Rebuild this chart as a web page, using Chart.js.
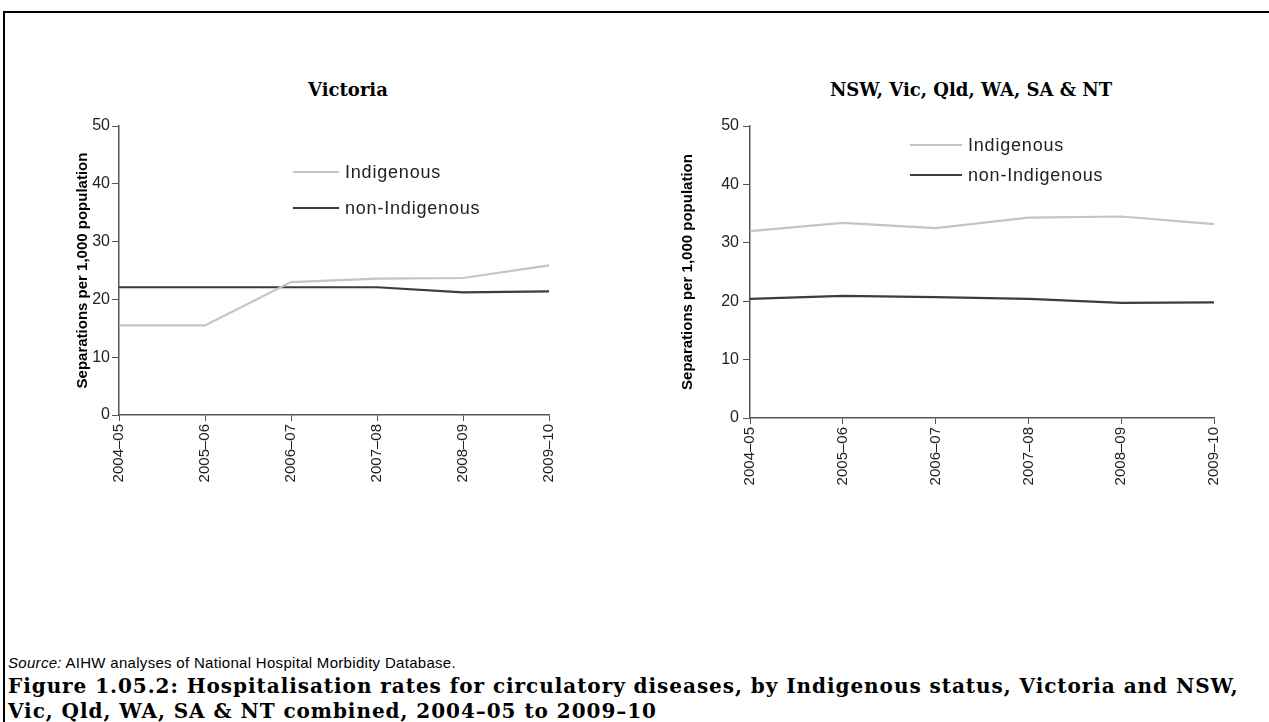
<!DOCTYPE html>
<html>
<head>
<meta charset="utf-8">
<script src="https://cdn.jsdelivr.net/npm/chart.js@4.4.0/dist/chart.umd.min.js"></script>
<style>
  body { margin: 0; background: #fff; width: 1269px; height: 722px; overflow: hidden; position: relative; font-family: "Liberation Sans", Arial, sans-serif; }
  .frame { position: absolute; left: 3px; top: 11px; width: 1300px; height: 800px; border-top: 2px solid #000; border-left: 2px solid #000; }
  .ptitle { position: absolute; top: 79px; width: 500px; text-align: center; font: bold 18px "DejaVu Serif", serif; color: #000; }
  .box { position: absolute; }
  .source { position: absolute; left: 8px; top: 654px; font-size: 15px; letter-spacing: 0.3px; color: #000; }
  .caption { position: absolute; left: 8px; top: 674px; font: bold 20px/25px "DejaVu Serif", serif; letter-spacing: 0.95px; color: #000; white-space: nowrap; }
</style>
</head>
<body>
<div class="frame"></div>
<div class="ptitle" style="left:98px">Victoria</div>
<div class="ptitle" style="left:721px">NSW, Vic, Qld, WA, SA &amp; NT</div>

<div class="box" style="left:70px;top:100px"><canvas id="vic" width="500" height="385"></canvas></div>
<div class="box" style="left:670px;top:100px"><canvas id="comb" width="565" height="388"></canvas></div>

<div class="source"><i>Source:</i> AIHW analyses of National Hospital Morbidity Database.</div>
<div class="caption">Figure 1.05.2: Hospitalisation rates for circulatory diseases, by Indigenous status, Victoria and NSW,<br>Vic, Qld, WA, SA &amp; NT combined, 2004–05 to 2009–10</div>

<script>
// Data
const years = ['2004–05', '2005–06', '2006–07', '2007–08', '2008–09', '2009–10'];
const seriesNames = ['Indigenous', 'non-Indigenous'];
const vicIndigenous = [15.5, 15.5, 23.0, 23.6, 23.7, 25.9];
const vicNonIndigenous = [22.1, 22.1, 22.1, 22.1, 21.2, 21.4];
const combIndigenous = [32.0, 33.4, 32.5, 34.3, 34.5, 33.2];
const combNonIndigenous = [20.4, 20.9, 20.7, 20.4, 19.7, 19.8];
const yTicks = [0, 10, 20, 30, 40, 50];

// Legend drawn inside the plot area
const insideLegend = {
    id: 'insideLegend',
    afterDraw(chart, args, opts) {
        const { ctx, chartArea } = chart;
        ctx.save();
        chart.data.datasets.forEach((ds, i) => {
            const x = chartArea.left + opts.x;
            const y = chartArea.top + opts.y + i * opts.gap;
            ctx.strokeStyle = ds.borderColor;
            ctx.lineWidth = 2;
            ctx.beginPath();
            ctx.moveTo(x, y);
            ctx.lineTo(x + opts.len, y);
            ctx.stroke();
            ctx.fillStyle = '#222';
            ctx.font = '18px "Liberation Sans", Arial, sans-serif';
            ctx.letterSpacing = '0.8px';
            ctx.textBaseline = 'middle';
            ctx.fillText(ds.label, x + opts.len + 6, y + 1);
        });
        ctx.restore();
    }
};

function makeChart(id, indig, nonIndig, legend, yWidth, tickPad) {
    return new Chart(document.getElementById(id), {
        type: 'line',
        data: {
            labels: years,
            datasets: [
                { label: seriesNames[0], data: indig, borderColor: '#c4c4c4', borderWidth: 2.2 },
                { label: seriesNames[1], data: nonIndig, borderColor: '#3c3c3c', borderWidth: 2.2 }
            ]
        },
        options: {
            responsive: false,
            animation: false,
            elements: { point: { radius: 0 }, line: { tension: 0 } },
            layout: { padding: { top: 26, right: 17, left: 0, bottom: 0 } },
            plugins: {
                legend: { display: false },
                tooltip: { enabled: false },
                insideLegend: legend
            },
            scales: {
                x: {
                    offset: false,
                    grid: { drawOnChartArea: false, drawTicks: true, tickLength: 6, color: '#555' },
                    border: { color: '#555', width: 1.5 },
                    ticks: { minRotation: 90, maxRotation: 90, padding: 3, color: '#222', font: { size: 15, family: '"Liberation Sans", Arial' } },
                    afterFit: s => { s.height = 70; }
                },
                y: {
                    min: 0, max: 50,
                    afterBuildTicks: s => { s.ticks = yTicks.map(v => ({ value: v })); },
                    grid: { drawOnChartArea: false, drawTicks: true, tickLength: 7, color: '#555' },
                    border: { color: '#555', width: 1.5 },
                    ticks: { padding: tickPad, color: '#222', font: { size: 16, family: '"Liberation Sans", Arial' } },
                    title: {
                        display: true,
                        text: 'Separations per 1,000 population',
                        color: '#000',
                        padding: { top: yWidth === 49 ? 4 : 9, bottom: 0 },
                        font: { size: 15, weight: 'bold', family: '"Liberation Sans", Arial' }
                    },
                    afterFit: s => { s.width = yWidth; }
                }
            }
        },
        plugins: [insideLegend]
    });
}

makeChart('vic', vicIndigenous, vicNonIndigenous, { x: 174, y: 46, gap: 36, len: 46 }, 49, 2);
makeChart('comb', combIndigenous, combNonIndigenous, { x: 160, y: 19, gap: 30, len: 52 }, 80, 4);
</script>
</body>
</html>
